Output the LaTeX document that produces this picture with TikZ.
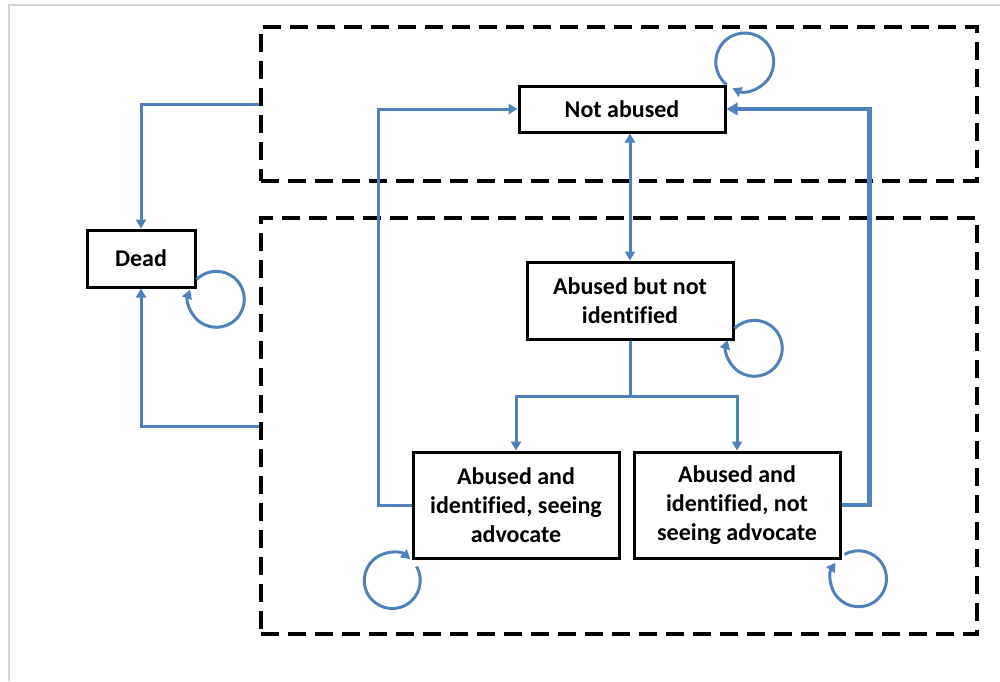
\documentclass[tikz,border=0pt]{standalone}
\usepackage{fontspec}
\setmainfont[Ligatures=NoCommon]{Carlito}
\usetikzlibrary{arrows.meta,calc}
\definecolor{arblue}{HTML}{4F81BD}
\definecolor{frame}{HTML}{D4D4D4}
\begin{document}
\begin{tikzpicture}[x=1pt,y=1pt,
  statebox/.style={draw=black,line width=3pt,fill=white,align=center,inner sep=0pt,
    font=\bfseries\fontsize{24}{29}\selectfont},
  groupbox/.style={draw=black,line width=3.5pt,dash pattern=on 18pt off 9pt,inner sep=0pt},
  link/.style={draw=arblue,line width=3pt,-{Triangle[length=9pt,width=10pt]}},
  thicklink/.style={draw=arblue,line width=4.5pt,-{Triangle[length=11pt,width=12pt]}},
  loopline/.style={draw=arblue,line width=3pt,-{Triangle[length=9pt,width=10pt]}},
  plainline/.style={draw=arblue,line width=3pt}
]
\useasboundingbox (0,0) rectangle (1000,-681);
\draw[frame,line width=1.2pt] (9,-681) -- (9,-5) -- (1000,-5);

% group boxes
\node[groupbox,minimum width=716pt,minimum height=154pt] (top) at (619,-104) {};
\node[groupbox,minimum width=716pt,minimum height=416pt] (bot) at (619,-426) {};

% states
\node[statebox,minimum width=206pt,minimum height=46pt] (na) at (622,-109) {Not abused};
\node[statebox,minimum width=206pt,minimum height=77pt] (abni) at (630,-300.5) {Abused but not\\identified};
\node[statebox,minimum width=206pt,minimum height=106pt] (aisa) at (516,-505) {Abused and\\identified, seeing\\advocate};
\node[statebox,minimum width=206pt,minimum height=106pt] (ainsa) at (737,-505) {Abused and\\identified, not\\seeing advocate};
\node[statebox,minimum width=108pt,minimum height=57pt] (dead) at (141,-258.5) {Dead};

% to Dead
\draw[link] (top.west) -| (dead.north);
\draw[link] (bot.west) -| (dead.south);

% Not abused <-> Abused but not identified
\draw[link,{Triangle[length=9pt,width=10pt]}-{Triangle[length=9pt,width=10pt]}]
  (abni.north) -- (abni.north |- na.south);

% branching
\coordinate (split) at ($(abni.south)+(0,-56)$);
\draw[plainline] (abni.south) -- (split);
\draw[link] (split) -| (aisa.north);
\draw[link] (split) -| (ainsa.north);

% back to Not abused
\draw[link] (aisa.west) -- ++(-33,0) |- (na.west);
\draw[thicklink] (ainsa.east) -- ++(28,0) |- (na.east);

% self loops
\draw[loopline] (na.north east) arc[start angle=231,end angle=-115,radius=29];
\draw[loopline] ([yshift=9pt]dead.south east) arc[start angle=135,end angle=-200,radius=28];
\draw[loopline] ([yshift=12pt]abni.south east) arc[start angle=135,end angle=-197,radius=28];
\draw[loopline] ([shift={(5pt,-7pt)}]aisa.south west) arc[start angle=30,end angle=-310,radius=28];
\draw[loopline] ([shift={(3pt,5pt)}]ainsa.south east) arc[start angle=120,end angle=-215,radius=28];
\end{tikzpicture}
\end{document}
